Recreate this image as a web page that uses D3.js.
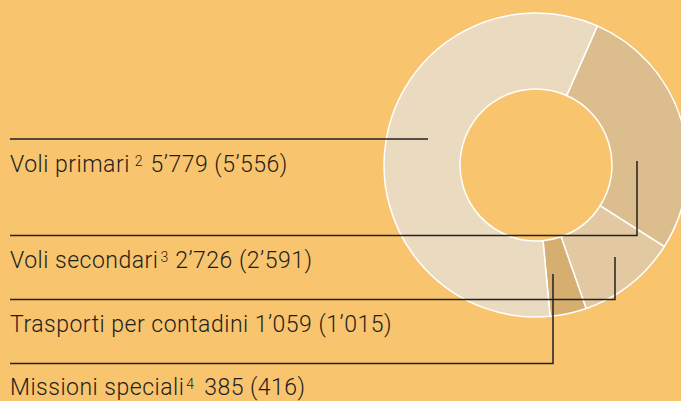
<!DOCTYPE html>
<html lang="it">
<head>
<meta charset="utf-8">
<script src="https://cdn.jsdelivr.net/npm/d3@7"></script>
<style>
  html, body { margin: 0; padding: 0; background: #f8c46d; }
  svg { display: block; }
  text { font-family: Roboto, "Liberation Sans", sans-serif; font-weight: 300; fill: #1e1e1e; }
</style>
</head>
<body>
<svg id="chart" width="681" height="401"></svg>
<script>
"use strict";

// values in clockwise order, starting at the top-right boundary
const categories = ["Voli secondari", "Trasporti per contadini", "Missioni speciali", "Voli primari"];
const values = [2726, 1059, 385, 5779];
const previous = ["2’591", "1’015", "416", "5’556"];
const current = ["2’726", "1’059", "385", "5’779"];
const notes = ["3", "", "4", "2"];
const colors = ["#dcbe8e", "#e2c9a1", "#d5ae70", "#eadac0"];

const svg = d3.select("#chart");
const cx = 536, cy = 165, outerR = 152, innerR = 76;
const start = 23.8 * Math.PI / 180;

const pie = d3.pie().sort(null).startAngle(start).endAngle(start + 2 * Math.PI);
const arcs = pie(values);
const arc = d3.arc().innerRadius(innerR).outerRadius(outerR);

const g = svg.append("g").attr("transform", `translate(${cx},${cy})`);
g.selectAll("path")
  .data(arcs)
  .join("path")
  .attr("d", arc)
  .attr("fill", (d, i) => colors[i])
  .attr("stroke", "#fff")
  .attr("stroke-width", 1.5);

// label rows: line y, text baseline, leader end, gaps round the footnote mark
const rows = [
  { i: 3, lineY: 139, base: 172, x2: 428, y2: null, gapA: 5, gapB: 8 },
  { i: 0, lineY: 235.5, base: 267.5, x2: 637, y2: 161, gapA: 2, gapB: 7 },
  { i: 1, lineY: 299.5, base: 332, x2: 615, y2: 257, gapA: 0, gapB: 6 },
  { i: 2, lineY: 363.5, base: 395, x2: 553, y2: 274, gapA: 2, gapB: 10 }
];

const leader = svg.append("g")
  .attr("fill", "none")
  .attr("stroke", "#222")
  .attr("stroke-width", 1.5);

rows.forEach(r => {
  const pts = [[10, r.lineY], [r.x2, r.lineY]];
  if (r.y2 !== null) pts.push([r.x2, r.y2]);
  leader.append("path").attr("d", d3.line()(pts));

  const t = svg.append("text")
    .attr("x", 10)
    .attr("y", r.base)
    .attr("font-size", 23)
    .attr("letter-spacing", 0.5);
  t.append("tspan").text(categories[r.i]);
  if (notes[r.i]) {
    t.append("tspan").attr("font-size", 14).attr("letter-spacing", 0)
      .attr("dx", r.gapA).attr("dy", -6).text(notes[r.i]);
    t.append("tspan").attr("dx", r.gapB).attr("dy", 6)
      .text(current[r.i] + " (" + previous[r.i] + ")");
  } else {
    t.append("tspan").attr("dx", r.gapB)
      .text(current[r.i] + " (" + previous[r.i] + ")");
  }
});
</script>
</body>
</html>
